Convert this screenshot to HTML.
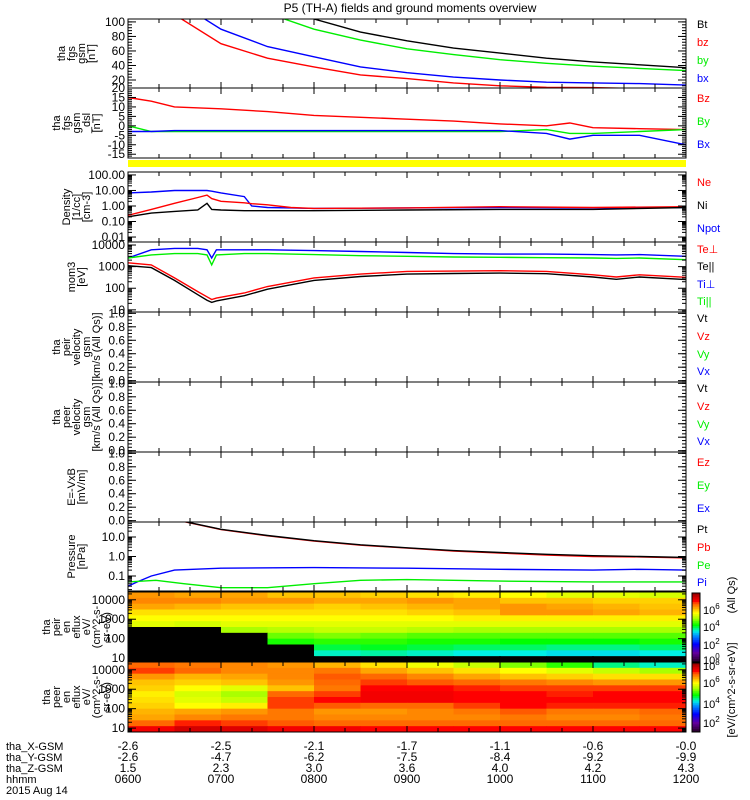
<!DOCTYPE html>
<html><head><meta charset="utf-8"><style>
html,body{margin:0;padding:0;background:#fff}
svg{display:block;font-family:"Liberation Sans",sans-serif}
</style></head><body>
<svg id="root" width="750" height="800" viewBox="0 0 750 800" xmlns="http://www.w3.org/2000/svg">
<text x="410" y="12" font-size="12" text-anchor="middle">P5 (TH-A) fields and ground moments overview</text>
<rect x="128" y="160" width="558" height="7" fill="#ffff00"/>
</svg>
<script>
// ---------- data ----------
var fgsT   = [6.0,6.5,7.0,7.5,8.0,8.5,9.0,9.5,10.0,10.5,11.0,11.5,12.0];
var fgsBt  = [500,320,200,140,104,86,74,64,57,50,45,41,37];
var fgsBy  = [400,250,160,112,90,75,63,55,48,43,39,36,33];
var fgsBx  = [220,130,90,66,52,38,30,24,20,17,16,15,13];
var fgsBz  = [160,110,70,50,38,27,22,16,12,10,9.5,8,7];
var dslT   = [6.0,6.25,6.5,7.0,7.5,8.0,8.5,9.0,9.5,10.0,10.5,10.75,11.0,11.5,12.0];
var dslBz  = [15,13,10,9,7.5,5.5,4.5,3.5,2.5,1,0,1.5,-1,-1.5,-2];
var dslBy  = [0,-3,-3,-3,-3,-3,-3,-3,-3,-3,-2,-4,-4,-3,-2];
var dslBx  = [-3,-3,-2.5,-2.5,-2.5,-2.5,-2.5,-2.5,-2.5,-2.5,-4,-7,-5,-5,-10];
var denT   = [6.0,6.25,6.5,6.75,6.85,6.9,7.0,7.25,7.33,7.5,7.75,8.0,9.0,10.0,11.0,12.0];
var denNpot= [7,8,10,10,10,9,7,4,1,0.8,0.75,0.7,0.75,0.8,0.75,0.8];
var denNe  = [0.25,0.6,1.5,3.5,5,3,2,1.6,1.4,1.2,0.8,0.7,0.75,0.9,0.8,0.9];
var denNi  = [0.2,0.35,0.45,0.55,1.5,0.6,0.55,0.5,0.5,0.5,0.5,0.5,0.55,0.6,0.6,0.8];
var momT   = [6.0,6.25,6.5,6.75,6.85,6.9,6.95,7.25,7.5,8.0,8.5,9.0,9.5,10.0,10.5,11.0,11.25,11.5,12.0];
var momTip = [2500,6000,7000,7000,6000,2500,6000,6000,6000,5500,5000,4500,4000,3800,3800,3600,3500,3600,3000];
var momTil = [2500,3500,4000,4000,3500,1200,3500,4000,4000,3600,3200,3000,2800,2700,2600,2500,2400,2500,2100];
var momTep = [1500,1200,300,70,40,30,35,60,120,300,450,600,620,650,600,420,330,420,320];
var momTel = [1100,900,230,50,28,22,26,45,90,230,350,450,480,500,470,330,260,330,250];
var presT  = [6.0,6.5,7.0,7.5,8.0,8.5,9.0,9.5,10.0,10.5,11.0,11.5,12.0];
var presPt = [300,80,25,12,6.5,4,2.8,2,1.6,1.3,1.1,1.0,0.9];
var presPb = [295,78,24,11.5,6.2,3.8,2.7,1.9,1.5,1.2,1.0,0.95,0.85];
var piT    = [6.0,6.1,6.25,6.5,7.0,8.0,9.0,10.0,11.0,11.5,12.0];
var presPi = [0.03,0.05,0.1,0.2,0.25,0.27,0.25,0.22,0.2,0.22,0.2];
var peT    = [6.0,6.3,6.6,7.0,7.5,8.0,8.5,9.0,10.0,11.0,12.0];
var presPe = [0.05,0.06,0.04,0.025,0.025,0.04,0.06,0.065,0.055,0.05,0.05];
var specTimes = [6.0,6.5,7.0,7.5,8.0,8.5,9.0,9.5,10.0,10.5,11.0,11.5];
var peirFlux = [
 [6.3,6.2,6.2,6.0,6.0,5.9,5.8,5.7,5.6,5.4,5.4,5.3],
 [6.4,6.4,6.3,6.3,6.2,6.2,6.3,6.2,6.0,6.0,5.9,5.9],
 [6.2,6.1,6.0,6.0,5.9,6.0,6.1,6.2,6.3,6.2,6.1,6.0],
 [5.8,5.8,5.8,5.8,5.8,5.8,5.9,6.0,6.3,6.3,6.2,6.1],
 [5.6,5.6,5.6,5.6,5.6,5.6,5.6,5.7,5.7,5.7,5.7,5.7],
 [5.4,5.3,5.4,5.4,5.4,5.4,5.4,5.4,5.4,5.4,5.4,5.4],
 [null,null,5.0,5.1,5.2,5.2,5.1,5.0,5.0,5.0,5.0,5.0],
 [null,null,null,4.7,4.8,4.7,4.6,4.6,4.6,4.6,4.6,4.6],
 [null,null,null,4.3,4.4,4.4,4.3,4.3,4.2,4.2,4.2,4.3],
 [null,null,null,null,4.0,4.1,4.0,3.9,3.9,3.8,3.8,3.9],
 [null,null,null,null,3.6,3.7,3.6,3.5,3.5,3.4,3.4,3.5],
 [null,null,null,null,null,null,null,null,null,null,null,null]];
var peerFlux = [
 [6.6,6.5,6.4,6.3,6.1,5.8,5.5,5.2,4.8,4.4,3.8,3.6],
 [6.8,6.6,6.4,6.4,6.5,6.2,6.0,5.8,5.6,5.4,5.2,5.0],
 [6.3,6.1,6.2,6.4,6.7,6.6,6.4,6.2,6.0,5.9,5.8,5.8],
 [6.0,5.9,6.0,6.3,6.6,6.8,6.7,6.6,6.5,6.4,6.3,6.3],
 [5.9,5.6,5.4,6.0,6.5,7.0,7.0,6.9,6.8,6.8,6.8,6.8],
 [5.7,5.3,5.0,6.6,6.8,7.1,7.1,7.0,7.0,6.9,7.0,7.0],
 [5.8,5.4,5.2,6.8,7.0,7.1,7.1,7.0,7.0,7.0,7.0,7.0],
 [5.9,5.6,5.7,6.8,6.7,6.6,6.6,6.8,7.0,6.9,6.9,6.9],
 [6.1,6.2,6.3,6.5,6.3,6.3,6.4,6.5,6.7,6.5,6.5,6.6],
 [6.2,6.4,6.5,6.5,6.4,6.4,6.4,6.4,6.5,6.4,6.4,6.5],
 [6.6,6.9,6.8,6.7,6.6,6.6,6.6,6.6,6.6,6.6,6.6,6.6],
 [7.1,7.4,7.3,7.1,7.1,7.0,7.0,7.0,7.0,7.0,7.0,7.0]];
var xGsm = ["-2.6","-2.5","-2.1","-1.7","-1.1","-0.6","-0.0"];
var yGsm = ["-2.6","-4.7","-6.2","-7.5","-8.4","-9.2","-9.9"];
var zGsm = ["1.5","2.3","3.0","3.6","4.0","4.2","4.3"];
var hhmm = ["0600","0700","0800","0900","1000","1100","1200"];

// ---------- helpers ----------
var NS="http://www.w3.org/2000/svg", svg=document.getElementById('root');
var X0=128, X1=686, T0=6, T1=12;
function xs(t){return X0+(t-T0)/(T1-T0)*(X1-X0);}
function el(tag,attrs,parent){var e=document.createElementNS(NS,tag);for(var k in attrs)e.setAttribute(k,attrs[k]);(parent||svg).appendChild(e);return e;}
function yScale(p){return function(v){var f=p.log?(Math.log10(v)-p.d0)/(p.d1-p.d0):(v-p.d0)/(p.d1-p.d0);return p.bot-f*(p.bot-p.top);};}

var panels={
 fgs:{top:19,bot:88,d0:9,d1:104,log:false,maj:[20,40,60,80,100],lab:["20","40","60","80","100"],minStep:4,title:["tha","fgs","gsm","[nT]"]},
 dsl:{top:88,bot:158,d0:-17,d1:20,log:false,maj:[-15,-10,-5,0,5,10,15,20],lab:["-15","-10","-5","0","5","10","15","20"],minStep:1,title:["tha","fgs","gsm","_dsl","[nT]"]},
 den:{top:172,bot:242,d0:-2.32,d1:2.19,log:true,maj:[0.01,0.1,1,10,100],lab:["0.01","0.10","1.00","10.00","100.00"],title:["Density","[1/cc]","[cm-3]"]},
 mom:{top:242,bot:312,d0:0.9,d1:4.14,log:true,maj:[10,100,1000,10000],lab:["10","100","1000","10000"],title:["mom3","[eV]"]},
 v1:{top:312,bot:382,d0:-0.02,d1:1.02,log:false,maj:[0,0.2,0.4,0.6,0.8,1.0],lab:["0.0","0.2","0.4","0.6","0.8","1.0"],minStep:0.05,title:["tha","peir","velocity","gsm","[km/s (All Qs)]"]},
 v2:{top:382,bot:452,d0:-0.02,d1:1.02,log:false,maj:[0,0.2,0.4,0.6,0.8,1.0],lab:["0.0","0.2","0.4","0.6","0.8","1.0"],minStep:0.05,title:["tha","peer","velocity","gsm","[km/s (All Qs)]"]},
 ef:{top:452,bot:522,d0:-0.02,d1:1.02,log:false,maj:[0,0.2,0.4,0.6,0.8,1.0],lab:["0.0","0.2","0.4","0.6","0.8","1.0"],minStep:0.05,title:["E=-VxB","[mV/m]"]},
 pres:{top:522,bot:591,d0:-1.77,d1:1.77,log:true,maj:[0.1,1,10],lab:["0.1","1.0","10.0"],title:["Pressure","[nPa]"]},
 sp1:{top:592,bot:662,d0:0.8,d1:4.4,log:true,maj:[10,100,1000,10000],lab:["10","100","1000","10000"],title:["tha","peir","en","eflux","eV/","(cm^2-s-","sr-eV)"]},
 sp2:{top:662,bot:732,d0:0.8,d1:4.4,log:true,maj:[10,100,1000,10000],lab:["10","100","1000","10000"],title:["tha","peer","en","eflux","eV/","(cm^2-s-","sr-eV)"]}
};
for(var k in panels){panels[k].y=yScale(panels[k]);}

// colour map
var cmStops=[[0,[40,0,40]],[1,[100,0,160]],[2,[0,0,255]],[3,[0,150,255]],[3.5,[0,240,230]],[4.2,[0,255,0]],[5,[170,255,0]],[5.6,[255,255,0]],[6.2,[255,165,0]],[6.7,[255,90,0]],[7.0,[255,0,0]],[7.5,[200,0,0]],[8,[130,0,0]]];
function cmap(v){if(v==null)return '#000';if(v<=0)return 'rgb(40,0,40)';for(var i=1;i<cmStops.length;i++){if(v<=cmStops[i][0]){var a=cmStops[i-1],b=cmStops[i],f=(v-a[0])/(b[0]-a[0]);var c=a[1].map(function(q,j){return Math.round(q+(b[1][j]-q)*f);});return 'rgb('+c.join(',')+')';}}return 'rgb(130,0,0)';}

// clip paths
var defs=el('defs',{});
for(var k in panels){var cp=el('clipPath',{id:'clip-'+k},defs);el('rect',{x:X0,y:panels[k].top,width:X1-X0,height:panels[k].bot-panels[k].top},cp);}

// spectrograms
function drawSpec(key,grid,name){
 var p=panels[key],g=el('g',{'clip-path':'url(#clip-'+key+')'});
 
 
 var nr=grid.length,rh=(p.bot-p.top)/nr,dt=specTimes[1]-specTimes[0];
 for(var r=0;r<nr;r++)for(var c=0;c<specTimes.length;c++){
  var x0=xs(specTimes[c]),x1=xs(specTimes[c]+dt);
  var cell=el('rect',{x:x0,y:p.top+r*rh,width:x1-x0+0.5,height:rh+0.5,fill:cmap(grid[r][c])},g);
  
  
 }
}
drawSpec('sp1',peirFlux,'peir-spectrogram');
drawSpec('sp2',peerFlux,'peer-spectrogram');

// series
function line(key,ts,vs,color,name){
 var p=panels[key],pts=ts.map(function(t,i){return xs(t).toFixed(1)+','+p.y(vs[i]).toFixed(1);}).join(' ');
 var pl=el('polyline',{points:pts,fill:'none',stroke:color,'stroke-width':1.4,'clip-path':'url(#clip-'+key+')'});
 
 
}
line('fgs',fgsT,fgsBt,'#000','series-bt');
line('fgs',fgsT,fgsBz,'#ff0000','series-bz');
line('fgs',fgsT,fgsBy,'#00ee00','series-by');
line('fgs',fgsT,fgsBx,'#0000ff','series-bx');
line('dsl',dslT,dslBz,'#ff0000','series-dsl-bz');
line('dsl',dslT,dslBy,'#00ee00','series-dsl-by');
line('dsl',dslT,dslBx,'#0000ff','series-dsl-bx');
line('den',denT,denNpot,'#0000ff','series-npot');
line('den',denT,denNe,'#ff0000','series-ne');
line('den',denT,denNi,'#000','series-ni');
line('mom',momT,momTip,'#0000ff','series-ti-perp');
line('mom',momT,momTil,'#00ee00','series-ti-par');
line('mom',momT,momTep,'#ff0000','series-te-perp');
line('mom',momT,momTel,'#000','series-te-par');
line('pres',presT,presPb,'#ff0000','series-pb');
line('pres',presT,presPt,'#000','series-pt');
line('pres',piT,presPi,'#0000ff','series-pi');
line('pres',peT,presPe,'#00ee00','series-pe');

// axes
function minorVals(p){var out=[];if(p.log){for(var e=Math.floor(p.d0);e<=Math.ceil(p.d1);e++)for(var m=2;m<10;m++){var v=m*Math.pow(10,e);var l=Math.log10(v);if(l>p.d0&&l<p.d1)out.push(v);}}else{for(var v=Math.ceil(p.d0/p.minStep)*p.minStep;v<=p.d1;v+=p.minStep)out.push(v);}return out;}
for(var k in panels){
 var p=panels[k],g=el('g',{});
 
 
 el('rect',{x:X0,y:p.top,width:X1-X0,height:p.bot-p.top,fill:'none',stroke:'#000','stroke-width':1},g);
 p.maj.forEach(function(v,i){var y=p.y(v);
  el('line',{x1:X0,x2:X0+8,y1:y,y2:y,stroke:'#000'},g);el('line',{x1:X1-8,x2:X1,y1:y,y2:y,stroke:'#000'},g);
  var t=el('text',{x:X0-3,y:y+4,'font-size':12,'text-anchor':'end'},g);t.textContent=p.lab[i];
  
  
 });
 minorVals(p).forEach(function(v){var y=p.y(v);el('line',{x1:X0,x2:X0+4,y1:y,y2:y,stroke:'#000'},g);el('line',{x1:X1-4,x2:X1,y1:y,y2:y,stroke:'#000'},g);});
 for(var m=0;m<=18;m++){var x=xs(T0+m/3),L=(m%3==0)?6:4;el('line',{x1:x,x2:x,y1:p.bot,y2:p.bot-L,stroke:'#000'},g);el('line',{x1:x,x2:x,y1:p.top,y2:p.top+L,stroke:'#000'},g);}
 var cy=(p.top+p.bot)/2,n=p.title.length,lh=10;
 var tt=el('text',{'font-size':11,'text-anchor':'middle',transform:'translate('+(X0-42-(n-1)*lh/2-6)+','+cy+') rotate(-90)'},g);
 
 
 p.title.forEach(function(s,i){var ts=el('tspan',{x:0,y:i*lh},tt);ts.textContent=s;});
}

// right-hand legends
var legends=[[24,'Bt','#000'],[42,'bz','#ff0000'],[60,'by','#00ee00'],[78,'bx','#0000ff'],
 [98,'Bz','#ff0000'],[121,'By','#00ee00'],[144,'Bx','#0000ff'],
 [182,'Ne','#ff0000'],[205,'Ni','#000'],[228,'Npot','#0000ff'],
 [249,'Te\u22a5','#ff0000'],[266,'Te||','#000'],[284,'Ti\u22a5','#0000ff'],[301,'Ti||','#00ee00'],
 [318,'Vt','#000'],[336,'Vz','#ff0000'],[354,'Vy','#00ee00'],[371,'Vx','#0000ff'],
 [388,'Vt','#000'],[406,'Vz','#ff0000'],[424,'Vy','#00ee00'],[441,'Vx','#0000ff'],
 [462,'Ez','#ff0000'],[485,'Ey','#00ee00'],[508,'Ex','#0000ff'],
 [529,'Pt','#000'],[547,'Pb','#ff0000'],[565,'Pe','#00ee00'],[582,'Pi','#0000ff']];
legends.forEach(function(l){var t=el('text',{x:697,y:l[0]+4,'font-size':11,fill:l[2]});t.textContent=l[1];
 
 });

// colour bars
function cbar(top,bot,labs,name){
 var g=el('g',{});
 
 
 var n=40;for(var i=0;i<n;i++){var v=8*i/n;el('rect',{x:692,y:bot-(i+1)*(bot-top)/n,width:8,height:(bot-top)/n+0.4,fill:cmap(v)},g);}
 el('rect',{x:692,y:top,width:8,height:bot-top,fill:'none',stroke:'#000'},g);
 labs.forEach(function(l){var t=el('text',{x:703,y:l[0]+4,'font-size':11},g);t.textContent='10';var s=el('tspan',{'font-size':8,dy:-5},t);s.textContent=l[1];});
}
cbar(593,662,[[610,'6'],[627,'4'],[645,'2'],[660,'0']],'peir-colorbar');
cbar(663,732,[[666,'8'],[683,'6'],[704,'4'],[723,'2']],'peer-colorbar');
var ct=el('text',{'font-size':11,'text-anchor':'middle',transform:'translate(735,690) rotate(-90)'});
ct.textContent='[eV/(cm^2-s-sr-eV)]';


var ct2=el('text',{'font-size':11,'text-anchor':'middle',transform:'translate(735,595) rotate(-90)'});
ct2.textContent='(All Qs)';



// bottom annotations
var rowsY=[746,757,768,779],rowNames=['tha_X-GSM','tha_Y-GSM','tha_Z-GSM','hhmm'],rowVals=[xGsm,yGsm,zGsm,hhmm];
rowNames.forEach(function(nm,r){
 var t=el('text',{x:6,y:rowsY[r]+4,'font-size':11});t.textContent=nm;
 
 
 rowVals[r].forEach(function(v,i){var tv=el('text',{x:xs(T0+i),y:rowsY[r]+4,'font-size':12,'text-anchor':'middle'});tv.textContent=v;
  
  });
});
var dt=el('text',{x:6,y:794,'font-size':11});dt.textContent='2015 Aug 14';


</script>
</body></html>
